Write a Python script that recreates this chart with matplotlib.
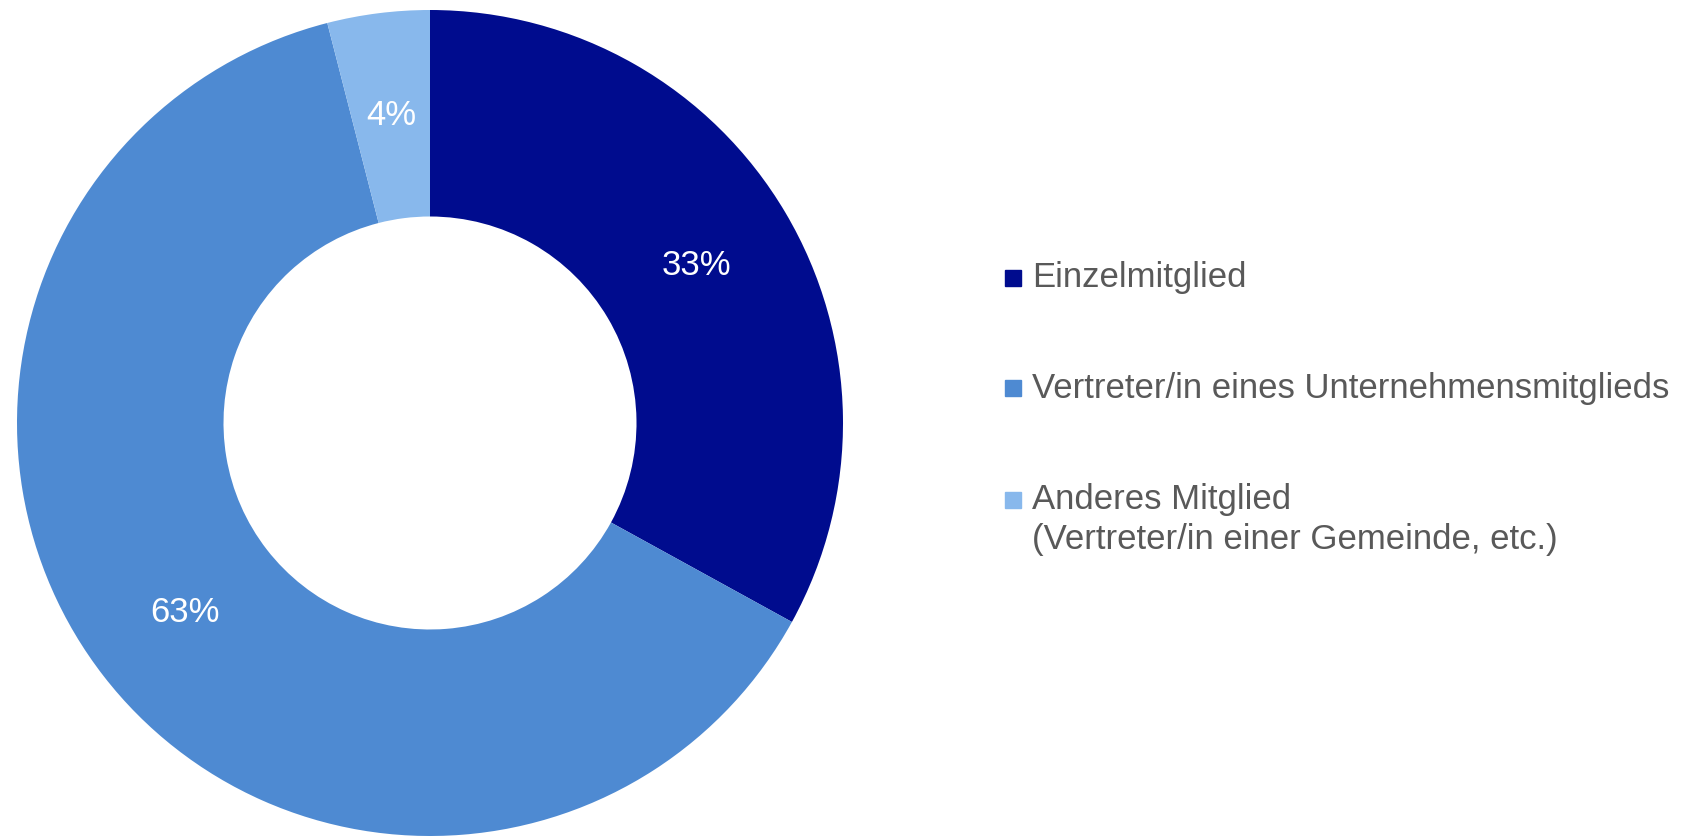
import matplotlib.pyplot as plt
from matplotlib.patches import Rectangle

# data
categories = ['Einzelmitglied',
              'Vertreter/in eines Unternehmensmitglieds',
              'Anderes Mitglied\n(Vertreter/in einer Gemeinde, etc.)']
shares = [33, 63, 4]
colors = ['#000C8E', '#4E8AD2', '#88B8EC']

W, H = 1699, 838
fig = plt.figure(figsize=(W / 100, H / 100), dpi=100)
plt.rcParams['font.family'] = ['Liberation Sans', 'DejaVu Sans']

# donut: centre ~(430,423) px, outer radius ~413 px
ax = fig.add_axes([17 / W, 2 / H, 826 / W, 826 / H])
wedges, texts, autotexts = ax.pie(
    shares, colors=colors, startangle=90, counterclock=False,
    radius=1.0, wedgeprops=dict(width=0.5, edgecolor='none'),
    autopct='%1.0f%%', pctdistance=0.75,
    textprops=dict(color='white', fontsize=25))
ax.set_xlim(-1, 1)
ax.set_ylim(-1, 1)
ax.set_aspect('equal')
ax.axis('off')

# legend drawn by hand so the marker sits on the first line
leg_y = [278, 388, 500]
line_gap = 39
for lab, col, yy in zip(categories, colors, leg_y):
    fig.patches.append(Rectangle((1005 / W, 1 - (yy + 8) / H), 16 / W, 16 / H,
                                 transform=fig.transFigure, color=col))
    for k, part in enumerate(lab.split('\n')):
        fig.text(1032 / W, 1 - (yy + k * line_gap) / H, part, ha='left',
                 va='center', fontsize=25, color='#595959')

fig.savefig('out.png', dpi=100)
